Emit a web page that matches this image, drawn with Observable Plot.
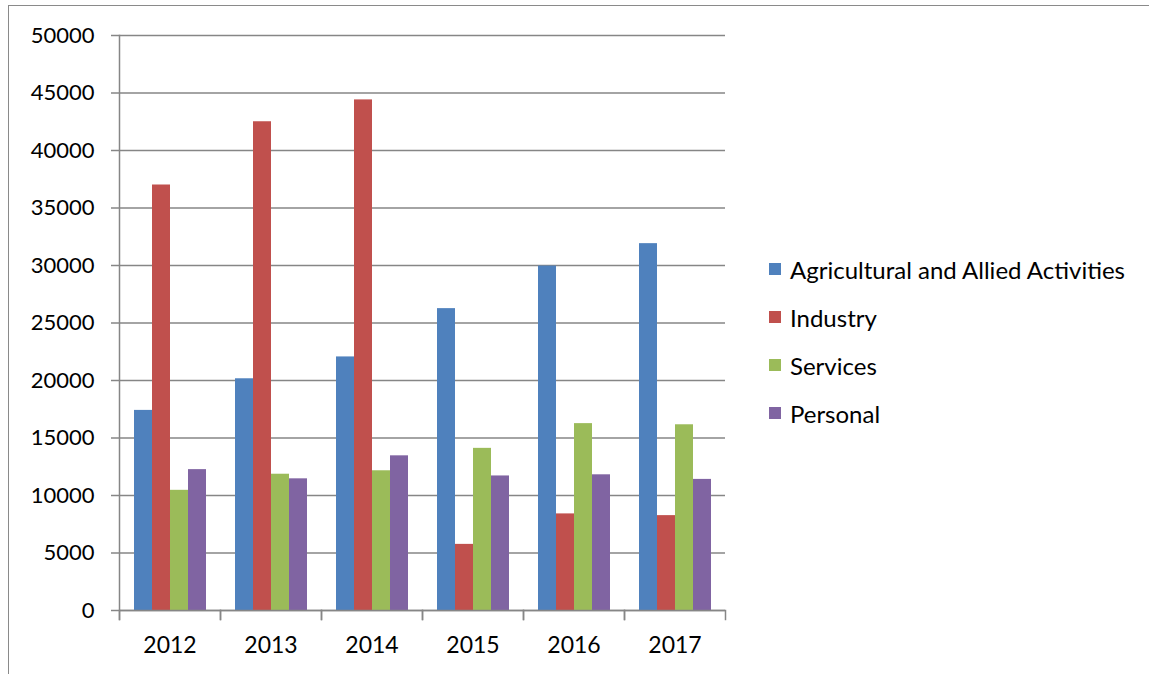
<!DOCTYPE html>
<html>
<head>
<meta charset="utf-8">
<script src="https://cdn.jsdelivr.net/npm/d3@7"></script>
<script src="https://cdn.jsdelivr.net/npm/@observablehq/plot@0.6"></script>
<style>
  html, body { margin: 0; padding: 0; background: #fff; }
  #wrap { position: relative; width: 1149px; height: 674px; overflow: hidden; font-family: Lato, "Open Sans", sans-serif; }
  #border { position: absolute; left: 8px; top: 5px; width: 1200px; height: 700px; border-left: 1.5px solid #8a8a8a; border-top: 1.5px solid #8a8a8a; }
  #chart { position: absolute; left: 0; top: 0; }
  #legend { position: absolute; left: 769px; top: 245px; }
  .item { display: flex; align-items: center; height: 48px; font-size: 24px; color: #000; white-space: nowrap; }
  .sw { width: 12px; height: 12px; margin-right: 9px; }
</style>
</head>
<body>
<div id="wrap">
  <div id="border"></div>
  <div id="chart"></div>
  <div id="legend"></div>
</div>
<script>
const years = ["2012", "2013", "2014", "2015", "2016", "2017"];
const seriesNames = ["Agricultural and Allied Activities", "Industry", "Services", "Personal"];
const agricultural = [17400, 20150, 22050, 26250, 29950, 31900];
const industry = [37000, 42500, 44400, 5750, 8400, 8250];
const services = [10450, 11850, 12150, 14100, 16250, 16150];
const personal = [12250, 11450, 13450, 11700, 11800, 11400];
const colors = ["#4F81BD", "#C0504D", "#9BBB59", "#8064A2"];
const yTicks = [0, 5000, 10000, 15000, 20000, 25000, 30000, 35000, 40000, 45000, 50000];

const seriesValues = [agricultural, industry, services, personal];
const data = years.flatMap((year, i) =>
  seriesNames.map((s, j) => ({year, series: s, value: seriesValues[j][i]}))
);

const W = 740, H = 674, mt = 35, mb = 64, ml = 118, mr = 14;
const innerH = H - mt - mb;
const gray = "#868686";

const chart = Plot.plot({
  width: W, height: H,
  marginLeft: ml, marginRight: mr, marginTop: mt, marginBottom: mb,
  style: {fontFamily: "Lato, 'Open Sans', sans-serif", fontSize: "22px", color: "#000", background: "transparent"},
  fx: {domain: years, padding: 0, label: null, axis: null},
  x: {domain: seriesNames, paddingInner: 0, paddingOuter: 0.77, axis: null},
  y: {domain: [0, 50000], label: null, axis: null},
  color: {domain: seriesNames, range: colors},
  marks: [
    Plot.gridY(yTicks, {stroke: gray, strokeOpacity: 1, strokeWidth: 1.5}),
    Plot.axisY(yTicks, {tickSize: 8, tickPadding: 17, tickFormat: d => String(d), stroke: gray, strokeWidth: 1.5, fill: "#000", label: null, fontSize: 22}),
    Plot.barY(data, {fx: "year", x: "series", y: "value", fill: "series"}),
    Plot.ruleY([0], {stroke: gray, strokeWidth: 1.5}),
    Plot.frame({anchor: "left", facetAnchor: "left", stroke: gray, strokeWidth: 1.5, insetBottom: -9}),
    Plot.frame({anchor: "left", stroke: gray, strokeWidth: 1.5, insetTop: innerH, insetBottom: -9}),
    Plot.frame({anchor: "right", stroke: gray, strokeWidth: 1.5, insetTop: innerH, insetBottom: -9}),
    Plot.axisFx({anchor: "bottom", tickSize: 0, tickPadding: 26, label: null, fontSize: 23})
  ]
});
document.getElementById("chart").appendChild(chart);

const legend = document.getElementById("legend");
seriesNames.forEach((s, i) => {
  const item = document.createElement("div");
  item.className = "item";
  const sw = document.createElement("div");
  sw.className = "sw";
  sw.style.background = colors[i];
  const label = document.createElement("span");
  label.textContent = s;
  item.appendChild(sw);
  item.appendChild(label);
  legend.appendChild(item);
});
</script>
</body>
</html>
